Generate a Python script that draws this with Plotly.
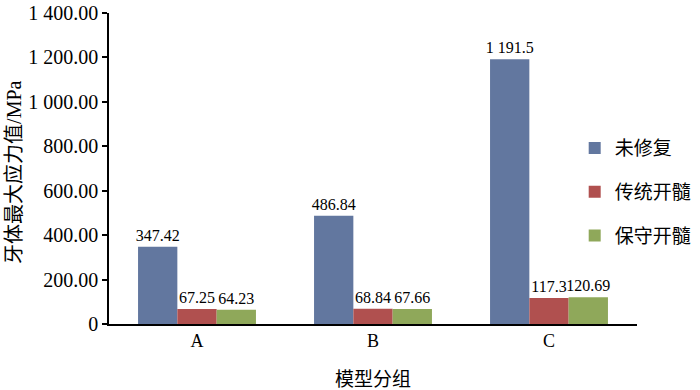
import plotly.graph_objects as go

categories = ["A", "B", "C"]
series_names = ["未修复", "传统开髓", "保守开髓"]
unrepaired = [347.42, 486.84, 1191.5]
traditional = [67.25, 68.84, 117.3]
conservative = [64.23, 67.66, 120.69]
label_unrepaired = ["347.42", "486.84", "1 191.5"]
label_traditional = ["67.25", "68.84", "117.3"]
label_conservative = ["64.23", "67.66", "120.69"]
tick_vals = [0, 200, 400, 600, 800, 1000, 1200, 1400]
tick_text = ["0", "200.00", "400.00", "600.00", "800.00", "1 000.00", "1 200.00", "1 400.00"]
colors = ["#62779F", "#B0504F", "#8FA85A"]

serif = "Liberation Serif, Times New Roman, Noto Sans CJK SC, serif"
cjk = "Liberation Serif, Noto Sans CJK SC, serif"

fig = go.Figure()
for name, vals, labels, col in zip(series_names,
                                   [unrepaired, traditional, conservative],
                                   [label_unrepaired, label_traditional, label_conservative],
                                   colors):
    fig.add_trace(go.Bar(
        x=categories, y=vals, name=name, text=labels,
        textposition="outside", constraintext="none", cliponaxis=False,
        textfont=dict(family=serif, size=16, color="black"),
        marker=dict(color=col, line=dict(width=0)),
        legendgroup=name,
    ))

fig.update_layout(
    width=700, height=390,
    margin=dict(l=109, r=63, t=13, b=66, autoexpand=False),
    paper_bgcolor="white", plot_bgcolor="white",
    barmode="group", bargap=0.33, bargroupgap=0,
    font=dict(family=serif, color="black"),
    showlegend=True,
    legend=dict(x=0.882, y=0.424, xanchor="left", yanchor="middle",
                font=dict(family=cjk, size=19, color="black"),
                tracegroupgap=16, bgcolor="rgba(0,0,0,0)"),
    xaxis=dict(
        automargin=False,
        showline=True, linecolor="black", linewidth=1.5,
        ticks="", tickfont=dict(family=serif, size=18),
        ticklabelstandoff=0,
        title=dict(text="模型分组", font=dict(family=cjk, size=19), standoff=22),
        showgrid=False,
    ),
    yaxis=dict(
        automargin=False,
        range=[0, 1400], tickvals=tick_vals, ticktext=tick_text,
        showline=True, linecolor="black", linewidth=1.5,
        ticks="outside", ticklen=5, tickwidth=1.5, tickcolor="black",
        tickfont=dict(family=serif, size=20),
        showgrid=False, zeroline=False,
    ),
    annotations=[dict(
        text="牙体最大应力值/MPa", textangle=-90,
        xref="paper", yref="paper", x=-0.18, y=0.489,
        xanchor="center", yanchor="middle", showarrow=False,
        font=dict(family=cjk, size=20, color="black"),
    )],
)

fig.write_html("out.html", config={"displayModeBar": False},
               post_script="document.body.style.margin='0px';")
